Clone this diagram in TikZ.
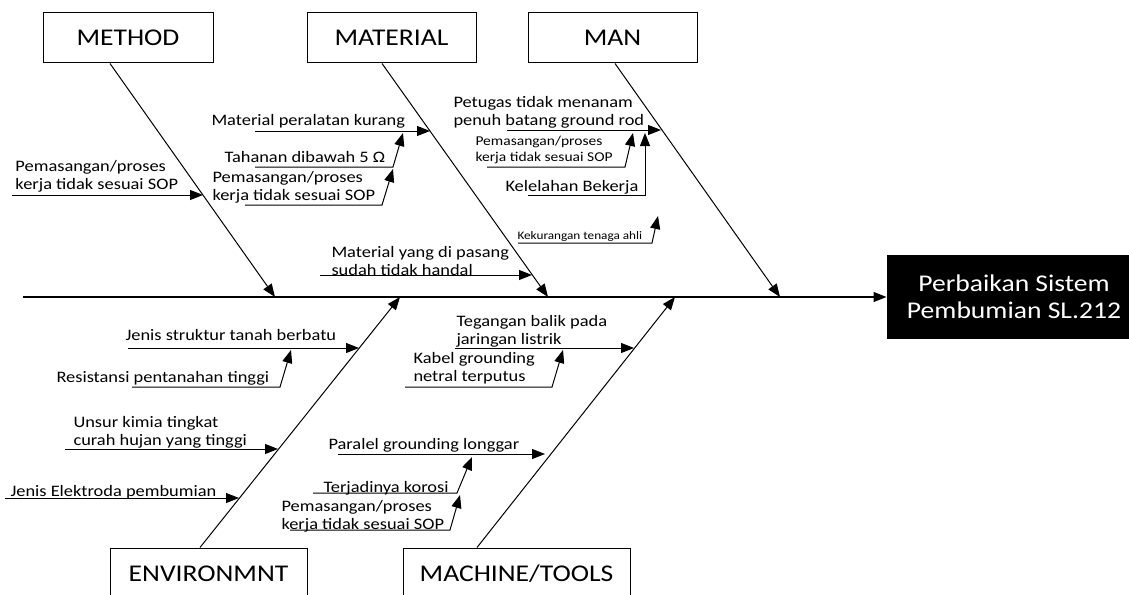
\documentclass[tikz,border=0pt]{standalone}
\usepackage{fontspec}
\setmainfont{Carlito}[FakeStretch=1.15]
\usetikzlibrary{arrows.meta}

\begin{document}
\begin{tikzpicture}[x=1pt, y=-1pt, line width=1pt,
  arr/.style={-{Triangle[length=13pt,width=10pt]}},
  bone/.style={draw, minimum height=50pt, inner sep=0pt, font=\fontsize{24}{28}\selectfont},
  cause/.style={anchor=west, align=left, inner sep=0pt, font=\fontsize{16}{18}\selectfont},
  smallcause/.style={cause, font=\fontsize{13.5}{16}\selectfont},
  tinycause/.style={cause, font=\fontsize{11.5}{13}\selectfont}]
\useasboundingbox (0,0) rectangle (1129,594);
% Draw head and spine
\node[fill=black, text=white, align=center, minimum width=254pt, minimum height=84pt,
  font=\fontsize{24}{27}\selectfont] (effect) at (1014,297) {Perbaikan Sistem\\Pembumian SL.212};
\coordinate (tail) at (23,297);
\draw[arr, line width=1.3pt] (tail) -- (effect.west);
% Draw category boxes
\node[bone, minimum width=170pt] (method) at (128,38) {METHOD};
\node[bone, minimum width=169pt] (material) at (391.5,38) {MATERIAL};
\node[bone, minimum width=169pt] (man) at (612.5,38) {MAN};
\node[bone, minimum width=197pt, minimum height=52pt] (environment) at (208.5,574) {ENVIRONMNT};
\node[bone, minimum width=227pt, minimum height=52pt] (machine) at (516.5,574) {MACHINE/TOOLS};
% Draw main bones
\coordinate (hitmethod) at (275,297);
\coordinate (hitmaterial) at (548,297);
\coordinate (hitman) at (780,297);
\coordinate (hitenv) at (400,297);
\coordinate (hitmachine) at (675,297);
\draw[arr] ([xshift=-18pt]method.south) -- (hitmethod);
\draw[arr] ([xshift=-9.5pt]material.south) -- (hitmaterial);
\draw[arr] ([xshift=2.5pt]man.south) -- (hitman);
\draw[arr] ([xshift=-8.5pt]environment.north) -- (hitenv);
\draw[arr] ([xshift=-39.5pt]machine.north) -- (hitmachine);
% Method causes
\node[cause] (me1) at (15,176) {Pemasangan/proses\\kerja tidak sesuai SOP};
\coordinate (me1s) at (12,195);
\coordinate (me1t) at (203,195);
\draw[arr] (me1s) -- (me1t);
% Material causes
\node[cause] (ma1) at (211,121) {Material peralatan kurang};
\node[cause] (ma2) at (224,157) {Tahanan dibawah 5 Ω};
\node[cause] (ma3) at (212,187) {Pemasangan/proses\\kerja tidak sesuai SOP};
\node[cause] (ma4) at (331,261) {Material yang di pasang\\sudah tidak handal};
\coordinate (ma1s) at (255,131);
\coordinate (ma1t) at (430,131);
\coordinate (ma2s) at (255,167);
\coordinate (ma2k) at (393,167);
\coordinate (ma2t) at (403,133);
\coordinate (ma3s) at (245,205);
\coordinate (ma3k) at (382,205);
\coordinate (ma3t) at (393,169);
\coordinate (ma4s) at (320,275);
\coordinate (ma4t) at (532,275);
\draw[arr] (ma1s) -- (ma1t);
\draw[arr] (ma2s) -- (ma2k) -- (ma2t);
\draw[arr] (ma3s) -- (ma3k) -- (ma3t);
\draw[arr] (ma4s) -- (ma4t);
% Man causes
\node[cause] (mn1) at (453,112) {Petugas tidak menanam\\penuh batang ground rod};
\node[smallcause] (mn2) at (475,150) {Pemasangan/proses\\kerja tidak sesuai SOP};
\node[cause] (mn3) at (505,187) {Kelelahan Bekerja};
\node[tinycause] (mn4) at (517,236) {Kekurangan tenaga ahli};
\coordinate (mn1s) at (507,130);
\coordinate (mn1t) at (661,130);
\coordinate (mn2s) at (487,167);
\coordinate (mn2k) at (625,167);
\coordinate (mn2t) at (633,133);
\coordinate (mn3s) at (528,195);
\coordinate (mn3k) at (645,195);
\coordinate (mn3t) at (645,133);
\coordinate (mn4s) at (518,243);
\coordinate (mn4k) at (652,243);
\coordinate (mn4t) at (658,216);
\draw[arr] (mn1s) -- (mn1t);
\draw[arr] (mn2s) -- (mn2k) -- (mn2t);
\draw[arr] (mn3s) -- (mn3k) -- (mn3t);
\draw[arr] (mn4s) -- (mn4k) -- (mn4t);
% Environment causes
\node[cause] (en1) at (125,335) {Jenis struktur tanah berbatu};
\node[cause] (en2) at (56,378) {Resistansi pentanahan tinggi};
\node[cause] (en3) at (73,432) {Unsur kimia tingkat\\curah hujan yang tinggi};
\node[cause] (en4) at (10,492) {Jenis Elektroda pembumian};
\coordinate (en1s) at (128,348);
\coordinate (en1t) at (359,348);
\coordinate (en2s) at (132,387);
\coordinate (en2k) at (280,387);
\coordinate (en2t) at (291,350);
\coordinate (en3s) at (65,449);
\coordinate (en3t) at (278,449);
\coordinate (en4s) at (5,498);
\coordinate (en4t) at (239,498);
\draw[arr] (en1s) -- (en1t);
\draw[arr] (en2s) -- (en2k) -- (en2t);
\draw[arr] (en3s) -- (en3t);
\draw[arr] (en4s) -- (en4t);
% Machine causes
\node[cause] (mc1) at (456,331) {Tegangan balik pada\\jaringan listrik};
\node[cause] (mc2) at (413,368) {Kabel grounding\\netral terputus};
\node[cause] (mc3) at (328,445) {Paralel grounding longgar};
\node[cause] (mc4) at (323,488) {Terjadinya korosi};
\node[cause] (mc5) at (281,516) {Pemasangan/proses\\kerja tidak sesuai SOP};
\coordinate (mc1s) at (455,348);
\coordinate (mc1t) at (634,348);
\coordinate (mc2s) at (405,387);
\coordinate (mc2k) at (552,387);
\coordinate (mc2t) at (563,350);
\coordinate (mc3s) at (338,454);
\coordinate (mc3t) at (545,454);
\coordinate (mc4s) at (313,493);
\coordinate (mc4k) at (457,493);
\coordinate (mc4t) at (472,457);
\coordinate (mc5s) at (290,530);
\coordinate (mc5k) at (450,530);
\coordinate (mc5t) at (460,495);
\draw[arr] (mc1s) -- (mc1t);
\draw[arr] (mc2s) -- (mc2k) -- (mc2t);
\draw[arr] (mc3s) -- (mc3t);
\draw[arr] (mc4s) -- (mc4k) -- (mc4t);
\draw[arr] (mc5s) -- (mc5k) -- (mc5t);
\end{tikzpicture}
\end{document}
